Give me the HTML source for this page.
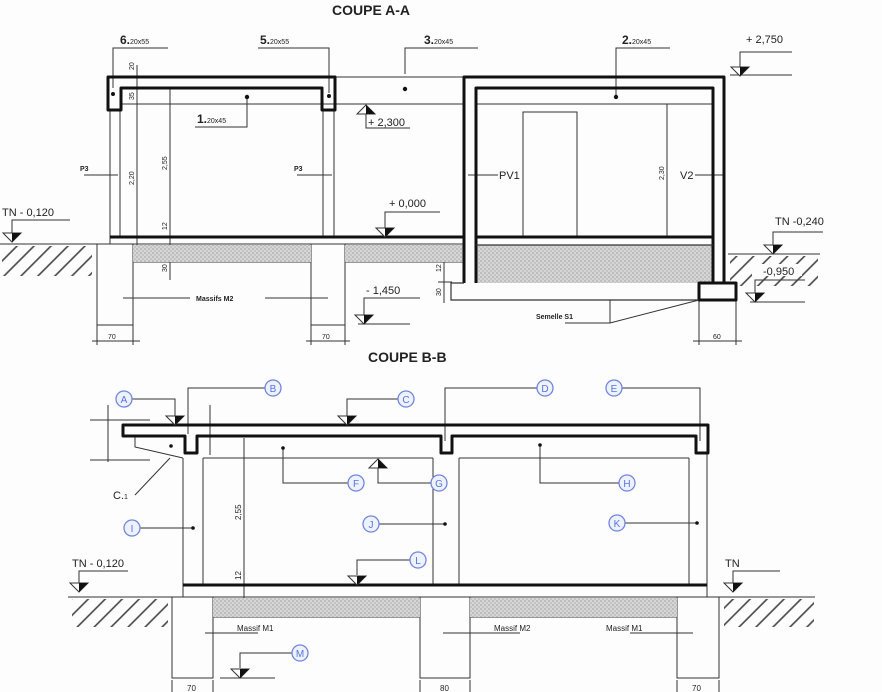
<!DOCTYPE html>
<html><head><meta charset="utf-8"><style>
html,body{margin:0;padding:0;background:#fdfdfd;}
svg{display:block;}
text{font-family:"Liberation Sans",sans-serif;fill:#222;}
.b{font-weight:bold;}
.c circle{fill:#eef2ff;stroke:#6f86e0;stroke-width:1.3;}
.c text{fill:#5a74d8;font-size:10px;text-anchor:middle;}
</style></head><body>
<svg width="882" height="692" viewBox="0 0 882 692" xmlns="http://www.w3.org/2000/svg">
<defs>
<pattern id="gr" width="4" height="4" patternUnits="userSpaceOnUse">
<rect width="4" height="4" fill="#d6d6d6"/><rect width="2" height="2" fill="#bdbdbd"/><rect x="2" y="2" width="2" height="2" fill="#c4c4c4"/>
</pattern>
<pattern id="ht" width="12" height="12" patternUnits="userSpaceOnUse" patternTransform="rotate(-45)">
<line x1="0" y1="6" x2="12" y2="6" stroke="#444" stroke-width="1.6"/>
</pattern>
<g id="lv"><polygon points="-9,-9 9,-9 0,0" fill="#fff" stroke="#333" stroke-width="1"/><polygon points="0,-9 9,-9 0,0" fill="#111"/></g>
<g id="lu"><polygon points="-9,9 9,9 0,0" fill="#fff" stroke="#333" stroke-width="1"/><polygon points="0,9 9,9 0,0" fill="#111"/></g>
</defs>

<!-- ===== COUPE A-A ===== -->
<text x="332" y="15" class="b" font-size="14">COUPE A-A</text>

<g fill="none" stroke="#333" stroke-width="1">
<line x1="335" y1="77" x2="463" y2="77"/>
<line x1="120" y1="104" x2="463" y2="104"/>
<line x1="476" y1="104" x2="713" y2="104"/>
<line x1="110" y1="110" x2="110" y2="237"/>
<line x1="120" y1="88" x2="120" y2="237"/>
<line x1="323" y1="110" x2="323" y2="237"/>
<line x1="334" y1="110" x2="334" y2="237"/>
<line x1="97" y1="244" x2="463" y2="244"/>
<line x1="110" y1="237" x2="110" y2="244"/>
<path d="M97 244 V325 H133 V244"/>
<path d="M311 244 V325 H345 V244"/>
<path d="M133 262 H311 M345 262 H463"/>
<line x1="0" y1="244" x2="97" y2="244"/>
<line x1="728" y1="254" x2="820" y2="254"/>
<rect x="523" y="112" width="54" height="125"/>
<line x1="137" y1="65" x2="137" y2="250"/>
<line x1="170" y1="88" x2="170" y2="280"/>
<line x1="667" y1="104" x2="667" y2="237"/>
<line x1="97" y1="325" x2="97" y2="345"/><line x1="133" y1="325" x2="133" y2="345"/>
<line x1="311" y1="325" x2="311" y2="345"/><line x1="345" y1="325" x2="345" y2="345"/>
<line x1="92" y1="341" x2="140" y2="341"/><line x1="306" y1="341" x2="350" y2="341"/>
<line x1="699" y1="300" x2="699" y2="345"/><line x1="736" y1="300" x2="736" y2="345"/>
<line x1="693" y1="341" x2="742" y2="341"/>
<line x1="444" y1="245" x2="444" y2="303"/>
<line x1="438" y1="282" x2="452" y2="282"/>
<path d="M113 88 V48 H168"/>
<path d="M329 93 V48 H258"/>
<path d="M405 74 V48 H478"/>
<path d="M616 97 V48 H670"/>
<path d="M247 97 V127 H195"/>
<path d="M366 113 V128 H410"/>
<path d="M84 175 H118 M297 175 H332"/>
<path d="M468 175 H498 M695 175 H723"/>
<path d="M123 298 H190 M265 298 H328"/>
<path d="M610 300 V323 M565 323 H610 L699 300"/>
<path d="M12 233 V220 H70"/>
<path d="M385 228 V212 H440"/>
<path d="M364 315 V298 H420 M358 324 H410"/>
<path d="M740 70 V52 H792 M730 75 H792"/>
<path d="M773 247 V232 H823"/>
<path d="M755 295 V280 H805 M750 302 H805"/>
</g>

<rect x="133" y="245" width="178" height="17" fill="url(#gr)"/>
<rect x="345" y="245" width="118" height="17" fill="url(#gr)"/>
<rect x="477" y="245" width="236" height="38" fill="url(#gr)"/>
<rect x="2" y="246" width="90" height="30" fill="url(#ht)"/>
<rect x="730" y="256" width="88" height="30" fill="url(#ht)"/>
<rect x="752" y="264" width="50" height="12" fill="#fdfdfd"/>

<g fill="none" stroke="#111" stroke-width="3" stroke-linejoin="round">
<path d="M108 110 V77 H335 V110 H322 V88 H121 V110 Z"/>
<line x1="110" y1="237" x2="463" y2="237"/>
<path d="M464 283 V77 H724 V283"/>
<path d="M476 283 V88 H713 V283"/>
<line x1="476" y1="237" x2="713" y2="237"/>
<rect x="699" y="283" width="37" height="17"/>
</g>
<g fill="none" stroke="#333" stroke-width="1.2">
<line x1="476" y1="245" x2="713" y2="245"/>
<path d="M464 283 H451 V300 H699"/>
</g>
<g fill="#111"><circle cx="113" cy="94" r="2"/><circle cx="329" cy="96" r="2"/><circle cx="405" cy="89" r="2.2"/><circle cx="616" cy="97" r="2.2"/><circle cx="247" cy="97" r="2.2"/></g>

<use href="#lv" x="12" y="242"/>
<use href="#lv" x="385" y="237"/>
<use href="#lv" x="364" y="324"/>
<use href="#lv" x="740" y="76"/>
<use href="#lv" x="773" y="254"/>
<use href="#lv" x="755" y="302"/>
<use href="#lu" x="366" y="105"/>

<g font-size="7">
<text x="120" y="44" font-size="12" class="b">6.<tspan font-size="7" font-weight="normal">20x55</tspan></text>
<text x="260" y="44" font-size="12" class="b">5.<tspan font-size="7" font-weight="normal">20x55</tspan></text>
<text x="424" y="44" font-size="12" class="b">3.<tspan font-size="7" font-weight="normal">20x45</tspan></text>
<text x="622" y="44" font-size="12" class="b">2.<tspan font-size="7" font-weight="normal">20x45</tspan></text>
<text x="197" y="123" font-size="12" class="b">1.<tspan font-size="7" font-weight="normal">20x45</tspan></text>
<text x="80" y="171" class="b">P3</text><text x="294" y="171" class="b">P3</text>
<text x="196" y="301" class="b">Massifs M2</text>
<text x="536" y="319" class="b">Semelle S1</text>
<text x="108" y="339">70</text><text x="322" y="339">70</text><text x="713" y="339">60</text>
<text transform="translate(134,70) rotate(-90)">20</text>
<text transform="translate(134,100) rotate(-90)">35</text>
<text transform="translate(134,185) rotate(-90)">2,20</text>
<text transform="translate(167,170) rotate(-90)">2,55</text>
<text transform="translate(167,230) rotate(-90)">12</text>
<text transform="translate(167,272) rotate(-90)">30</text>
<text transform="translate(664,180) rotate(-90)">2,30</text>
<text transform="translate(441,272) rotate(-90)">12</text>
<text transform="translate(441,296) rotate(-90)">30</text>
</g>
<g font-size="11">
<text x="499" y="179">PV1</text><text x="680" y="179">V2</text>
<text x="2" y="216">TN - 0,120</text>
<text x="368" y="126">+ 2,300</text>
<text x="389" y="207">+ 0,000</text>
<text x="366" y="294">- 1,450</text>
<text x="746" y="43">+ 2,750</text>
<text x="775" y="225">TN -0,240</text>
<text x="763" y="275">-0,950</text>
</g>

<!-- ===== COUPE B-B ===== -->
<text x="368" y="362" class="b" font-size="14">COUPE B-B</text>

<g fill="none" stroke="#333" stroke-width="1">
<line x1="183" y1="458" x2="183" y2="585"/>
<line x1="203" y1="458" x2="203" y2="585"/>
<line x1="433" y1="458" x2="433" y2="585"/>
<line x1="459" y1="458" x2="459" y2="585"/>
<line x1="689" y1="458" x2="689" y2="585"/>
<line x1="707" y1="453" x2="707" y2="597"/>
<line x1="203" y1="458" x2="433" y2="458"/>
<line x1="459" y1="458" x2="689" y2="458"/>
<path d="M135 436 V447 L183 458"/>
<line x1="172" y1="597" x2="720" y2="597"/>
<line x1="183" y1="585" x2="183" y2="597"/>
<path d="M172 597 V678 H213 V597"/>
<path d="M420 597 V678 H470 V597"/>
<path d="M677 597 V678 H719 V597"/>
<path d="M213 617 H420 M470 617 H677"/>
<line x1="68" y1="597" x2="172" y2="597"/>
<line x1="720" y1="597" x2="815" y2="597"/>
<line x1="244" y1="438" x2="244" y2="600"/>
<line x1="108" y1="405" x2="108" y2="462"/>
<line x1="90" y1="420" x2="150" y2="420"/><line x1="90" y1="460" x2="150" y2="460"/>
<line x1="210" y1="405" x2="210" y2="455"/>
<line x1="172" y1="680" x2="172" y2="692"/><line x1="213" y1="680" x2="213" y2="692"/>
<line x1="420" y1="680" x2="420" y2="692"/><line x1="470" y1="680" x2="470" y2="692"/>
<line x1="677" y1="680" x2="677" y2="692"/><line x1="719" y1="680" x2="719" y2="692"/>
<path d="M132 399 H175 V416"/>
<path d="M265 388 H188 V434"/>
<path d="M398 399 H347 V416"/>
<path d="M537 388 H445 V441"/>
<path d="M622 388 H700 V441"/>
<path d="M348 483 H283 V448"/>
<path d="M431 483 H378 V468"/>
<path d="M619 483 H540 V445"/>
<path d="M140 528 H193"/>
<path d="M379 524 H445"/>
<path d="M625 523 H697"/>
<path d="M410 560 H357 V575"/>
<path d="M292 653 H240 V668 M220 678 H275"/>
<path d="M79 583 V571 H128"/>
<path d="M733 583 V571 H780"/>
<path d="M170 458 L135 495"/>
<path d="M205 633 H258 M443 633 H520 M630 633 H693"/>
</g>

<rect x="213" y="598" width="207" height="19" fill="url(#gr)"/>
<rect x="470" y="598" width="207" height="19" fill="url(#gr)"/>
<rect x="72" y="599" width="96" height="28" fill="url(#ht)"/>
<rect x="724" y="599" width="90" height="28" fill="url(#ht)"/>

<g fill="none" stroke="#111" stroke-width="3" stroke-linejoin="round">
<path d="M123 425 H708 V453 H696 V436 H452 V453 H441 V436 H197 V453 H185 V436 H123 Z"/>
<line x1="183" y1="585" x2="707" y2="585"/>
</g>
<g fill="#111"><circle cx="171" cy="446" r="1.8"/><circle cx="283" cy="448" r="1.8"/><circle cx="540" cy="445" r="1.8"/><circle cx="193" cy="528" r="1.8"/><circle cx="445" cy="524" r="1.8"/><circle cx="697" cy="523" r="1.8"/></g>

<use href="#lv" x="175" y="425"/>
<use href="#lv" x="347" y="425"/>
<use href="#lv" x="357" y="585"/>
<use href="#lv" x="240" y="678"/>
<use href="#lv" x="79" y="592"/>
<use href="#lv" x="733" y="592"/>
<use href="#lu" x="378" y="459"/>

<g class="c">
<circle cx="124" cy="399" r="8"/><text x="124" y="403">A</text>
<circle cx="273" cy="388" r="8"/><text x="273" y="392">B</text>
<circle cx="406" cy="399" r="8"/><text x="406" y="403">C</text>
<circle cx="545" cy="388" r="8"/><text x="545" y="392">D</text>
<circle cx="614" cy="388" r="8"/><text x="614" y="392">E</text>
<circle cx="356" cy="483" r="8"/><text x="356" y="487">F</text>
<circle cx="439" cy="483" r="8"/><text x="439" y="487">G</text>
<circle cx="627" cy="483" r="8"/><text x="627" y="487">H</text>
<circle cx="132" cy="528" r="8"/><text x="132" y="532">I</text>
<circle cx="371" cy="524" r="8"/><text x="371" y="528">J</text>
<circle cx="617" cy="523" r="8"/><text x="617" y="527">K</text>
<circle cx="418" cy="560" r="8"/><text x="418" y="564">L</text>
<circle cx="300" cy="653" r="8"/><text x="300" y="657">M</text>
</g>

<g font-size="8">
<text x="237" y="631">Massif M1</text>
<text x="494" y="631">Massif M2</text>
<text x="606" y="631">Massif M1</text>
<text x="187" y="691">70</text><text x="440" y="691">80</text><text x="692" y="691">70</text>
<text transform="translate(241,520) rotate(-90)">2,55</text>
<text transform="translate(241,580) rotate(-90)">12</text>
</g>
<text x="113" y="499" font-size="11">C.<tspan font-size="7">1</tspan></text>
<text x="72" y="567" font-size="11">TN - 0,120</text>
<text x="725" y="567" font-size="11">TN</text>
</svg>
</body></html>
